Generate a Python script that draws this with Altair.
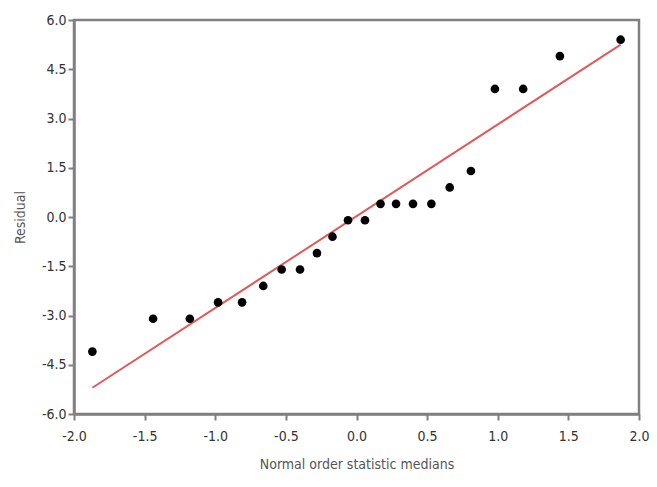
import altair as alt
import pandas as pd

# Normal order statistic medians (x) and residuals (y)
osm = [-1.87, -1.44, -1.18, -0.98, -0.81, -0.66, -0.53, -0.40, -0.28, -0.17, -0.06,
       0.06, 0.17, 0.28, 0.40, 0.53, 0.66, 0.81, 0.98, 1.18, 1.44, 1.87]
residual = [-4.1, -3.1, -3.1, -2.6, -2.6, -2.1, -1.6, -1.6, -1.1, -0.6, -0.1,
            -0.1, 0.4, 0.4, 0.4, 0.4, 0.9, 1.4, 3.9, 3.9, 4.9, 5.4]

# fitted reference line end points
line_x = [-1.87, 1.87]
line_y = [-5.2, 5.25]

x_ticks = [-2.0, -1.5, -1.0, -0.5, 0.0, 0.5, 1.0, 1.5, 2.0]
y_ticks = [-6.0, -4.5, -3.0, -1.5, 0.0, 1.5, 3.0, 4.5, 6.0]

pts = pd.DataFrame({"x": osm, "y": residual})
ln = pd.DataFrame({"x": line_x, "y": line_y})

FONT = "DejaVu Sans Condensed"
label_expr = "replace(format(datum.value, '.1f'), '\u2212', '-')"

xenc = alt.X("x:Q", scale=alt.Scale(domain=[-2, 2], nice=False),
             axis=alt.Axis(title="Normal order statistic medians", values=x_ticks,
                           labelExpr=label_expr, grid=False, tickSize=6,
                           labelFlush=False, labelOverlap=False,
                           labelPadding=9, titlePadding=14))
yenc = alt.Y("y:Q", scale=alt.Scale(domain=[-6, 6], nice=False),
             axis=alt.Axis(title="Residual", values=y_ticks,
                           labelExpr=label_expr, grid=False, tickSize=6,
                           labelFlush=False, labelOverlap=False,
                           labelPadding=2, titlePadding=14))

line = alt.Chart(ln).mark_line(color="#e05a5a", strokeWidth=2).encode(x=xenc, y=yenc)
points = alt.Chart(pts).mark_point(filled=True, color="black", opacity=1, size=75).encode(x=xenc, y=yenc)

chart = (line + points).properties(
    width=565, height=394,
    background="white",
    autosize=alt.AutoSizeParams(type="none"),
    padding={"left": 66, "top": 12, "right": 10, "bottom": 65},
).configure_view(
    stroke="#808080", strokeWidth=2.5
).configure_axis(
    domainColor="#808080", domainWidth=2.5, tickColor="#808080", tickWidth=2,
    labelFont=FONT, labelFontSize=14, labelColor="#333333",
    titleFont=FONT, titleFontSize=14, titleColor="#555555", titleFontWeight="normal",
)

chart.save("out.html", embed_options={"renderer": "svg", "actions": False})
